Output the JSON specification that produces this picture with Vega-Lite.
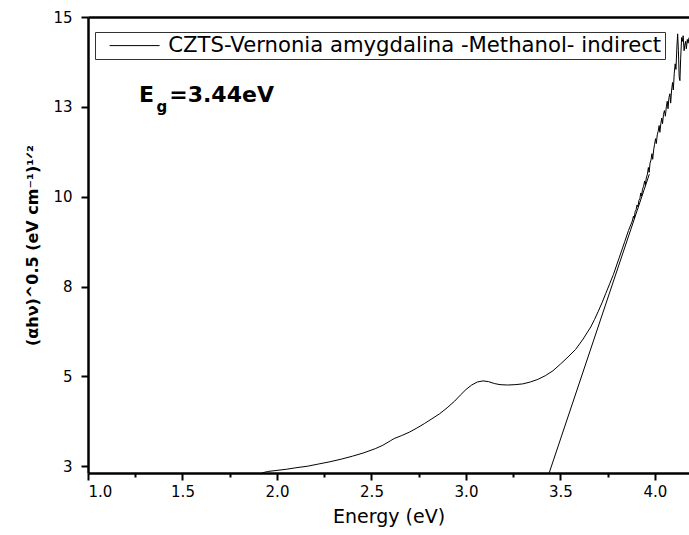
{
  "$schema": "https://vega.github.io/schema/vega-lite/v6.json",
  "width": 601,
  "height": 456,
  "autosize": {"type": "none"},
  "padding": {"left": 88, "top": 17, "right": 0, "bottom": 62},
  "background": "white",
  "config": {"view": {"stroke": null}, "font": "DejaVu Sans"},
  "datasets": {
    "curve": [
      {"x": 1.92, "y": 2.82, "series": "CZTS-Vernonia amygdalina -Methanol- indirect"},
      {"x": 1.95, "y": 2.86, "series": "CZTS-Vernonia amygdalina -Methanol- indirect"},
      {"x": 2.00, "y": 2.89, "series": "CZTS-Vernonia amygdalina -Methanol- indirect"},
      {"x": 2.05, "y": 2.92, "series": "CZTS-Vernonia amygdalina -Methanol- indirect"},
      {"x": 2.10, "y": 2.96, "series": "CZTS-Vernonia amygdalina -Methanol- indirect"},
      {"x": 2.16, "y": 3.00, "series": "CZTS-Vernonia amygdalina -Methanol- indirect"},
      {"x": 2.22, "y": 3.06, "series": "CZTS-Vernonia amygdalina -Methanol- indirect"},
      {"x": 2.28, "y": 3.12, "series": "CZTS-Vernonia amygdalina -Methanol- indirect"},
      {"x": 2.34, "y": 3.19, "series": "CZTS-Vernonia amygdalina -Methanol- indirect"},
      {"x": 2.40, "y": 3.27, "series": "CZTS-Vernonia amygdalina -Methanol- indirect"},
      {"x": 2.46, "y": 3.36, "series": "CZTS-Vernonia amygdalina -Methanol- indirect"},
      {"x": 2.52, "y": 3.47, "series": "CZTS-Vernonia amygdalina -Methanol- indirect"},
      {"x": 2.56, "y": 3.56, "series": "CZTS-Vernonia amygdalina -Methanol- indirect"},
      {"x": 2.60, "y": 3.68, "series": "CZTS-Vernonia amygdalina -Methanol- indirect"},
      {"x": 2.62, "y": 3.74, "series": "CZTS-Vernonia amygdalina -Methanol- indirect"},
      {"x": 2.66, "y": 3.82, "series": "CZTS-Vernonia amygdalina -Methanol- indirect"},
      {"x": 2.70, "y": 3.91, "series": "CZTS-Vernonia amygdalina -Methanol- indirect"},
      {"x": 2.74, "y": 4.02, "series": "CZTS-Vernonia amygdalina -Methanol- indirect"},
      {"x": 2.78, "y": 4.14, "series": "CZTS-Vernonia amygdalina -Methanol- indirect"},
      {"x": 2.82, "y": 4.27, "series": "CZTS-Vernonia amygdalina -Methanol- indirect"},
      {"x": 2.86, "y": 4.40, "series": "CZTS-Vernonia amygdalina -Methanol- indirect"},
      {"x": 2.90, "y": 4.56, "series": "CZTS-Vernonia amygdalina -Methanol- indirect"},
      {"x": 2.94, "y": 4.74, "series": "CZTS-Vernonia amygdalina -Methanol- indirect"},
      {"x": 2.97, "y": 4.90, "series": "CZTS-Vernonia amygdalina -Methanol- indirect"},
      {"x": 3.00, "y": 5.05, "series": "CZTS-Vernonia amygdalina -Methanol- indirect"},
      {"x": 3.03, "y": 5.17, "series": "CZTS-Vernonia amygdalina -Methanol- indirect"},
      {"x": 3.06, "y": 5.25, "series": "CZTS-Vernonia amygdalina -Methanol- indirect"},
      {"x": 3.09, "y": 5.28, "series": "CZTS-Vernonia amygdalina -Methanol- indirect"},
      {"x": 3.12, "y": 5.26, "series": "CZTS-Vernonia amygdalina -Methanol- indirect"},
      {"x": 3.15, "y": 5.21, "series": "CZTS-Vernonia amygdalina -Methanol- indirect"},
      {"x": 3.18, "y": 5.18, "series": "CZTS-Vernonia amygdalina -Methanol- indirect"},
      {"x": 3.22, "y": 5.17, "series": "CZTS-Vernonia amygdalina -Methanol- indirect"},
      {"x": 3.26, "y": 5.18, "series": "CZTS-Vernonia amygdalina -Methanol- indirect"},
      {"x": 3.30, "y": 5.20, "series": "CZTS-Vernonia amygdalina -Methanol- indirect"},
      {"x": 3.34, "y": 5.25, "series": "CZTS-Vernonia amygdalina -Methanol- indirect"},
      {"x": 3.38, "y": 5.32, "series": "CZTS-Vernonia amygdalina -Methanol- indirect"},
      {"x": 3.42, "y": 5.42, "series": "CZTS-Vernonia amygdalina -Methanol- indirect"},
      {"x": 3.46, "y": 5.55, "series": "CZTS-Vernonia amygdalina -Methanol- indirect"},
      {"x": 3.50, "y": 5.73, "series": "CZTS-Vernonia amygdalina -Methanol- indirect"},
      {"x": 3.54, "y": 5.92, "series": "CZTS-Vernonia amygdalina -Methanol- indirect"},
      {"x": 3.58, "y": 6.12, "series": "CZTS-Vernonia amygdalina -Methanol- indirect"},
      {"x": 3.62, "y": 6.40, "series": "CZTS-Vernonia amygdalina -Methanol- indirect"},
      {"x": 3.66, "y": 6.72, "series": "CZTS-Vernonia amygdalina -Methanol- indirect"},
      {"x": 3.68, "y": 6.92, "series": "CZTS-Vernonia amygdalina -Methanol- indirect"},
      {"x": 3.70, "y": 7.14, "series": "CZTS-Vernonia amygdalina -Methanol- indirect"},
      {"x": 3.72, "y": 7.37, "series": "CZTS-Vernonia amygdalina -Methanol- indirect"},
      {"x": 3.74, "y": 7.62, "series": "CZTS-Vernonia amygdalina -Methanol- indirect"},
      {"x": 3.76, "y": 7.87, "series": "CZTS-Vernonia amygdalina -Methanol- indirect"},
      {"x": 3.78, "y": 8.12, "series": "CZTS-Vernonia amygdalina -Methanol- indirect"},
      {"x": 3.81, "y": 8.56, "series": "CZTS-Vernonia amygdalina -Methanol- indirect"},
      {"x": 3.84, "y": 9.00, "series": "CZTS-Vernonia amygdalina -Methanol- indirect"},
      {"x": 3.86, "y": 9.30, "series": "CZTS-Vernonia amygdalina -Methanol- indirect"},
      {"x": 3.88, "y": 9.55, "series": "CZTS-Vernonia amygdalina -Methanol- indirect"},
      {"x": 3.886, "y": 9.68, "series": "CZTS-Vernonia amygdalina -Methanol- indirect"},
      {"x": 3.89, "y": 9.62, "series": "CZTS-Vernonia amygdalina -Methanol- indirect"},
      {"x": 3.895, "y": 9.80, "series": "CZTS-Vernonia amygdalina -Methanol- indirect"},
      {"x": 3.90, "y": 9.85, "series": "CZTS-Vernonia amygdalina -Methanol- indirect"},
      {"x": 3.905, "y": 9.98, "series": "CZTS-Vernonia amygdalina -Methanol- indirect"},
      {"x": 3.91, "y": 9.93, "series": "CZTS-Vernonia amygdalina -Methanol- indirect"},
      {"x": 3.915, "y": 10.10, "series": "CZTS-Vernonia amygdalina -Methanol- indirect"},
      {"x": 3.92, "y": 10.15, "series": "CZTS-Vernonia amygdalina -Methanol- indirect"},
      {"x": 3.925, "y": 10.30, "series": "CZTS-Vernonia amygdalina -Methanol- indirect"},
      {"x": 3.929, "y": 10.22, "series": "CZTS-Vernonia amygdalina -Methanol- indirect"},
      {"x": 3.934, "y": 10.40, "series": "CZTS-Vernonia amygdalina -Methanol- indirect"},
      {"x": 3.94, "y": 10.48, "series": "CZTS-Vernonia amygdalina -Methanol- indirect"},
      {"x": 3.945, "y": 10.62, "series": "CZTS-Vernonia amygdalina -Methanol- indirect"},
      {"x": 3.949, "y": 10.52, "series": "CZTS-Vernonia amygdalina -Methanol- indirect"},
      {"x": 3.954, "y": 10.70, "series": "CZTS-Vernonia amygdalina -Methanol- indirect"},
      {"x": 3.96, "y": 10.80, "series": "CZTS-Vernonia amygdalina -Methanol- indirect"},
      {"x": 3.965, "y": 10.98, "series": "CZTS-Vernonia amygdalina -Methanol- indirect"},
      {"x": 3.969, "y": 10.85, "series": "CZTS-Vernonia amygdalina -Methanol- indirect"},
      {"x": 3.974, "y": 11.10, "series": "CZTS-Vernonia amygdalina -Methanol- indirect"},
      {"x": 3.979, "y": 11.18, "series": "CZTS-Vernonia amygdalina -Methanol- indirect"},
      {"x": 3.984, "y": 11.35, "series": "CZTS-Vernonia amygdalina -Methanol- indirect"},
      {"x": 3.988, "y": 11.20, "series": "CZTS-Vernonia amygdalina -Methanol- indirect"},
      {"x": 3.993, "y": 11.45, "series": "CZTS-Vernonia amygdalina -Methanol- indirect"},
      {"x": 3.998, "y": 11.60, "series": "CZTS-Vernonia amygdalina -Methanol- indirect"},
      {"x": 4.003, "y": 11.75, "series": "CZTS-Vernonia amygdalina -Methanol- indirect"},
      {"x": 4.007, "y": 11.62, "series": "CZTS-Vernonia amygdalina -Methanol- indirect"},
      {"x": 4.012, "y": 11.85, "series": "CZTS-Vernonia amygdalina -Methanol- indirect"},
      {"x": 4.017, "y": 11.95, "series": "CZTS-Vernonia amygdalina -Methanol- indirect"},
      {"x": 4.022, "y": 12.10, "series": "CZTS-Vernonia amygdalina -Methanol- indirect"},
      {"x": 4.026, "y": 11.92, "series": "CZTS-Vernonia amygdalina -Methanol- indirect"},
      {"x": 4.031, "y": 12.15, "series": "CZTS-Vernonia amygdalina -Methanol- indirect"},
      {"x": 4.036, "y": 12.30, "series": "CZTS-Vernonia amygdalina -Methanol- indirect"},
      {"x": 4.040, "y": 12.15, "series": "CZTS-Vernonia amygdalina -Methanol- indirect"},
      {"x": 4.045, "y": 12.40, "series": "CZTS-Vernonia amygdalina -Methanol- indirect"},
      {"x": 4.050, "y": 12.50, "series": "CZTS-Vernonia amygdalina -Methanol- indirect"},
      {"x": 4.055, "y": 12.35, "series": "CZTS-Vernonia amygdalina -Methanol- indirect"},
      {"x": 4.060, "y": 12.60, "series": "CZTS-Vernonia amygdalina -Methanol- indirect"},
      {"x": 4.065, "y": 12.75, "series": "CZTS-Vernonia amygdalina -Methanol- indirect"},
      {"x": 4.069, "y": 12.55, "series": "CZTS-Vernonia amygdalina -Methanol- indirect"},
      {"x": 4.074, "y": 12.85, "series": "CZTS-Vernonia amygdalina -Methanol- indirect"},
      {"x": 4.079, "y": 12.95, "series": "CZTS-Vernonia amygdalina -Methanol- indirect"},
      {"x": 4.083, "y": 12.70, "series": "CZTS-Vernonia amygdalina -Methanol- indirect"},
      {"x": 4.088, "y": 13.05, "series": "CZTS-Vernonia amygdalina -Methanol- indirect"},
      {"x": 4.093, "y": 13.25, "series": "CZTS-Vernonia amygdalina -Methanol- indirect"},
      {"x": 4.097, "y": 13.05, "series": "CZTS-Vernonia amygdalina -Methanol- indirect"},
      {"x": 4.102, "y": 13.50, "series": "CZTS-Vernonia amygdalina -Methanol- indirect"},
      {"x": 4.107, "y": 13.75, "series": "CZTS-Vernonia amygdalina -Methanol- indirect"},
      {"x": 4.111, "y": 13.60, "series": "CZTS-Vernonia amygdalina -Methanol- indirect"},
      {"x": 4.116, "y": 14.20, "series": "CZTS-Vernonia amygdalina -Methanol- indirect"},
      {"x": 4.120, "y": 14.55, "series": "CZTS-Vernonia amygdalina -Methanol- indirect"},
      {"x": 4.124, "y": 14.10, "series": "CZTS-Vernonia amygdalina -Methanol- indirect"},
      {"x": 4.128, "y": 13.40, "series": "CZTS-Vernonia amygdalina -Methanol- indirect"},
      {"x": 4.132, "y": 13.30, "series": "CZTS-Vernonia amygdalina -Methanol- indirect"},
      {"x": 4.136, "y": 13.90, "series": "CZTS-Vernonia amygdalina -Methanol- indirect"},
      {"x": 4.141, "y": 14.45, "series": "CZTS-Vernonia amygdalina -Methanol- indirect"},
      {"x": 4.145, "y": 14.35, "series": "CZTS-Vernonia amygdalina -Methanol- indirect"},
      {"x": 4.149, "y": 14.50, "series": "CZTS-Vernonia amygdalina -Methanol- indirect"},
      {"x": 4.154, "y": 14.10, "series": "CZTS-Vernonia amygdalina -Methanol- indirect"},
      {"x": 4.158, "y": 14.25, "series": "CZTS-Vernonia amygdalina -Methanol- indirect"},
      {"x": 4.162, "y": 14.35, "series": "CZTS-Vernonia amygdalina -Methanol- indirect"},
      {"x": 4.166, "y": 14.15, "series": "CZTS-Vernonia amygdalina -Methanol- indirect"},
      {"x": 4.171, "y": 14.40, "series": "CZTS-Vernonia amygdalina -Methanol- indirect"},
      {"x": 4.175, "y": 14.30, "series": "CZTS-Vernonia amygdalina -Methanol- indirect"},
      {"x": 4.180, "y": 14.45, "series": "CZTS-Vernonia amygdalina -Methanol- indirect"}
    ],
    "tangent": [
      {"x": 3.44, "y": 2.82},
      {"x": 3.97, "y": 10.80}
    ],
    "bigText": [
      {"x": 1.27, "y": 12.74, "t": "E"},
      {"x": 1.43, "y": 12.74, "t": "=3.44eV"}
    ],
    "subText": [
      {"x": 1.362, "y": 12.47, "t": "g"}
    ]
  },
  "layer": [
    {
      "data": {"name": "curve"},
      "mark": {"type": "line", "strokeWidth": 1, "clip": true},
      "encoding": {
        "x": {
          "field": "x", "type": "quantitative",
          "scale": {"domain": [1.0, 4.18], "nice": false, "zero": false},
          "axis": {
            "orient": "bottom",
            "values": [1.0, 1.5, 2.0, 2.5, 3.0, 3.5, 4.0],
            "format": ".1f",
            "grid": false,
            "domainColor": "black", "domainWidth": 2.5,
            "tickColor": "black", "tickWidth": 2, "tickSize": 7,
            "labelFont": "DejaVu Sans", "labelFontSize": 15, "labelColor": "black", "labelPadding": 4,
            "title": "Energy (eV)",
            "titleFont": "DejaVu Sans", "titleFontSize": 19, "titleFontWeight": "normal", "titleColor": "black", "titlePadding": 8
          }
        },
        "y": {
          "field": "y", "type": "quantitative",
          "scale": {"domain": [2.82, 15], "nice": false, "zero": false},
          "axis": {
            "values": [3, 5.4, 7.8, 10.2, 12.6, 15],
            "format": ".0f",
            "grid": false,
            "domainColor": "black", "domainWidth": 2.5,
            "tickColor": "black", "tickWidth": 2, "tickSize": 7,
            "labelFont": "DejaVu Sans", "labelFontSize": 15, "labelColor": "black", "labelPadding": 9,
            "title": "(αhν)^0.5 (eV cm⁻¹)¹ᐟ²",
            "titleFont": "DejaVu Sans", "titleFontSize": 16, "titleFontWeight": "bold", "titleColor": "black", "titlePadding": 12
          }
        },
        "color": {
          "field": "series", "type": "nominal",
          "scale": {"range": ["black"]},
          "legend": {
            "title": null,
            "orient": "none",
            "legendX": 7,
            "legendY": 15,
            "strokeColor": "#333",
            "padding": 3,
            "symbolType": "M-25,0L25,0",
            "symbolSize": 4,
            "symbolStrokeWidth": 1,
            "symbolStrokeColor": "black",
            "symbolFillColor": "transparent",
            "symbolOffset": 26,
            "labelFont": "DejaVu Sans",
            "labelFontSize": 21.2,
            "labelColor": "black",
            "labelOffset": 23,
            "labelLimit": 1000
          }
        }
      }
    },
    {
      "data": {"name": "tangent"},
      "mark": {"type": "line", "color": "black", "strokeWidth": 1, "clip": true},
      "encoding": {
        "x": {
          "field": "x", "type": "quantitative",
          "axis": {
            "orient": "bottom",
            "values": [1.25, 1.75, 2.25, 2.75, 3.25, 3.75],
            "labels": false, "domain": false, "grid": false,
            "tickColor": "black", "tickWidth": 2, "tickSize": 4,
            "title": null
          }
        },
        "y": {"field": "y", "type": "quantitative"}
      }
    },
    {
      "data": {"name": "bigText"},
      "mark": {"type": "text", "font": "DejaVu Sans", "fontWeight": "bold", "fontSize": 22, "align": "left", "baseline": "alphabetic", "color": "black"},
      "encoding": {
        "x": {
          "field": "x", "type": "quantitative",
          "axis": {
            "orient": "top", "labels": false, "ticks": false, "grid": false,
            "domainColor": "black", "domainWidth": 2.5, "title": null
          }
        },
        "y": {"field": "y", "type": "quantitative"},
        "text": {"field": "t"}
      }
    },
    {
      "data": {"name": "subText"},
      "mark": {"type": "text", "font": "DejaVu Sans", "fontWeight": "bold", "fontSize": 15, "align": "left", "baseline": "alphabetic", "color": "black"},
      "encoding": {
        "x": {"field": "x", "type": "quantitative", "axis": null},
        "y": {"field": "y", "type": "quantitative"},
        "text": {"field": "t"}
      }
    }
  ],
  "resolve": {"axis": {"x": "independent"}}
}
